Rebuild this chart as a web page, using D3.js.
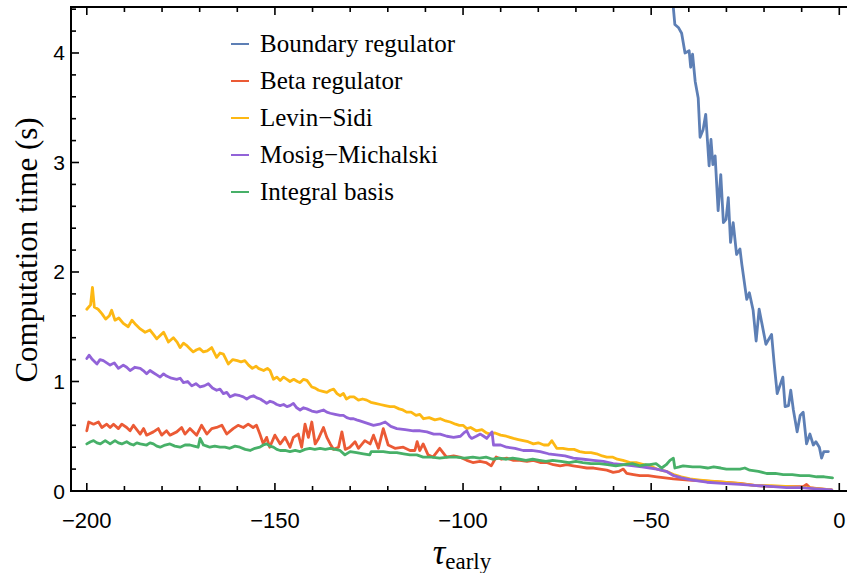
<!DOCTYPE html>
<html><head><meta charset="utf-8">
<script src="https://cdn.jsdelivr.net/npm/d3@7"></script>
<style>body{margin:0;background:#fff}svg{display:block}</style>
</head><body>
<svg id="c" width="847" height="573"></svg>
<script>
const seriesNames = ["Boundary regulator","Beta regulator","Levin\u2212Sidi","Mosig\u2212Michalski","Integral basis"];
const seriesColors = ["#5d7fb5","#eb5a35","#fdb813","#9263d8","#47b068"];
const xMajorTicks = [-200,-150,-100,-50,0];
const yMajorTicks = [0,1,2,3,4];

const boundaryRegulator = [[-48,5.0],[-45,4.6],[-44.1,4.41],[-43.7,4.26],[-42.7,4.23],[-41.9,4.18],[-41.0,4.00],[-39.9,4.02],[-39.5,3.87],[-39.0,3.99],[-38.3,3.74],[-37.5,3.59],[-37.0,3.23],[-36.2,3.30],[-35.5,3.44],[-34.6,2.97],[-34.1,3.21],[-33.6,2.98],[-33.0,3.06],[-32.2,2.56],[-31.5,2.89],[-30.8,2.45],[-30.1,2.48],[-29.5,2.68],[-28.9,2.27],[-28.2,2.45],[-27.3,2.16],[-26.4,2.21],[-25.9,2.07],[-24.6,1.75],[-23.9,1.81],[-22.9,1.65],[-22.1,1.37],[-21.3,1.66],[-19.5,1.34],[-18.0,1.43],[-17.3,1.16],[-16.5,0.89],[-15.0,1.04],[-14.4,0.77],[-13.5,0.78],[-12.9,0.92],[-12.2,0.74],[-11.2,0.54],[-10.4,0.69],[-9.6,0.72],[-8.7,0.43],[-7.8,0.52],[-6.9,0.42],[-6.2,0.45],[-5.3,0.40],[-4.7,0.30],[-4.1,0.36],[-2.9,0.36]];

const betaRegulator = [[-200,0.55],[-199.5,0.63],[-198.2,0.61],[-196.9,0.63],[-196,0.58],[-194.7,0.61],[-193.8,0.58],[-192.9,0.61],[-191.6,0.57],[-190.7,0.61],[-189.4,0.58],[-188.5,0.55],[-187.6,0.60],[-185.8,0.52],[-184.9,0.57],[-184.1,0.51],[-182.3,0.54],[-181,0.57],[-180.1,0.51],[-178.8,0.55],[-177.9,0.51],[-176.1,0.54],[-174.8,0.58],[-173.9,0.52],[-172.6,0.57],[-170.8,0.51],[-169.5,0.60],[-168.1,0.52],[-166.8,0.57],[-165.5,0.58],[-164.1,0.60],[-162.8,0.52],[-161.1,0.57],[-159.8,0.60],[-158.4,0.58],[-157.1,0.61],[-155.8,0.58],[-154.9,0.60],[-154,0.52],[-153.1,0.43],[-152.2,0.49],[-151.4,0.40],[-150,0.51],[-148.6,0.43],[-147.3,0.49],[-146,0.40],[-145.1,0.49],[-143.8,0.52],[-142.9,0.40],[-142,0.61],[-141.1,0.49],[-140.2,0.63],[-139.3,0.43],[-138.4,0.48],[-137.1,0.58],[-136.2,0.49],[-135.3,0.43],[-134.4,0.38],[-133.1,0.40],[-132.2,0.54],[-131.3,0.38],[-130.1,0.40],[-128.7,0.45],[-127.8,0.39],[-126.1,0.46],[-124.7,0.43],[-123.8,0.51],[-122.5,0.39],[-121.2,0.57],[-119.9,0.42],[-118.1,0.39],[-115.9,0.40],[-114.1,0.37],[-112.8,0.37],[-112.2,0.45],[-111.5,0.37],[-110.6,0.43],[-109.3,0.33],[-108,0.31],[-106.2,0.39],[-104.4,0.31],[-102.5,0.32],[-100.9,0.31],[-99,0.28],[-97.4,0.26],[-95.5,0.27],[-93.9,0.26],[-92.5,0.23],[-91.2,0.31],[-89.8,0.29],[-88.4,0.30],[-86.6,0.28],[-84.9,0.28],[-83,0.27],[-81.3,0.28],[-79.5,0.26],[-77.8,0.26],[-76,0.24],[-74.2,0.23],[-72.4,0.24],[-70.7,0.23],[-68.9,0.22],[-67.1,0.21],[-65.3,0.21],[-63.6,0.20],[-61.8,0.19],[-60.1,0.17],[-58.5,0.18],[-57.4,0.20],[-56.5,0.16],[-54.7,0.15],[-53,0.14],[-50.8,0.14],[-48.5,0.13],[-46.3,0.12],[-44.1,0.11],[-40,0.10],[-35.2,0.09],[-31,0.08],[-26.4,0.07],[-22,0.05],[-17.5,0.04],[-13,0.04],[-9.6,0.04],[-8.7,0.06],[-7.8,0.03],[-5,0.02],[-2,0.01]];

const levinSidi = [[-200,1.66],[-199,1.70],[-198.5,1.86],[-198,1.68],[-197,1.66],[-196,1.62],[-195,1.57],[-194,1.60],[-193.4,1.65],[-192.5,1.56],[-191.5,1.58],[-190.3,1.53],[-189,1.50],[-188,1.56],[-187,1.52],[-185.8,1.48],[-184.5,1.45],[-183.2,1.47],[-182.3,1.43],[-181.4,1.39],[-180.5,1.42],[-179.6,1.45],[-178.3,1.36],[-177,1.40],[-176,1.36],[-175.2,1.31],[-174.3,1.35],[-173.5,1.33],[-172.6,1.30],[-171.7,1.27],[-170.8,1.29],[-170,1.30],[-169,1.27],[-168,1.28],[-166.8,1.31],[-165.5,1.22],[-164.6,1.26],[-163.7,1.25],[-162.4,1.16],[-161.2,1.20],[-160,1.19],[-159,1.18],[-158,1.19],[-157,1.15],[-156,1.12],[-155,1.14],[-154.4,1.12],[-153,1.10],[-152,1.12],[-151.3,1.10],[-150.4,1.02],[-149.5,1.04],[-148.6,1.01],[-147.7,1.04],[-146.8,1.02],[-146,1.00],[-145,1.02],[-144,1.00],[-143.3,0.99],[-142.4,1.02],[-141.5,1.01],[-140.2,0.95],[-139.3,0.94],[-138.4,0.92],[-137.3,0.91],[-136.2,0.90],[-135.3,0.92],[-134.4,0.93],[-133.5,0.89],[-132.7,0.87],[-131.8,0.89],[-131,0.84],[-130,0.86],[-129,0.86],[-127.8,0.83],[-126.7,0.84],[-125.6,0.83],[-124.5,0.81],[-123.3,0.80],[-122,0.79],[-120.7,0.78],[-119.4,0.77],[-118.2,0.77],[-117,0.75],[-116,0.74],[-115,0.72],[-113.8,0.72],[-112.5,0.69],[-111.5,0.70],[-110.5,0.66],[-109,0.67],[-107.5,0.65],[-106,0.66],[-104.6,0.64],[-103.4,0.63],[-102,0.61],[-101,0.60],[-100,0.60],[-99,0.57],[-98,0.58],[-96.5,0.55],[-95,0.56],[-93.8,0.53],[-92.8,0.52],[-91.5,0.53],[-90,0.51],[-88.5,0.50],[-87.5,0.49],[-86.6,0.48],[-85.3,0.47],[-84,0.46],[-82.7,0.45],[-81.3,0.43],[-80,0.44],[-78.5,0.42],[-77.3,0.42],[-76.4,0.46],[-75.1,0.39],[-73.5,0.39],[-72,0.38],[-70.5,0.38],[-69,0.36],[-67.5,0.35],[-66,0.35],[-64.5,0.34],[-63,0.32],[-61.8,0.31],[-60.3,0.31],[-59,0.29],[-57.5,0.28],[-55.6,0.26],[-54,0.26],[-52,0.24],[-50.3,0.23],[-48.5,0.20],[-46,0.18],[-44,0.15],[-42,0.13],[-39.7,0.11],[-37,0.10],[-34,0.09],[-30.8,0.08],[-27,0.07],[-22,0.05],[-18,0.05],[-13.1,0.04],[-9,0.03],[-5,0.02],[-2,0.01]];

const mosigMichalski = [[-200,1.21],[-199.4,1.24],[-198.5,1.20],[-197.3,1.16],[-196.5,1.20],[-195.6,1.19],[-194.7,1.17],[-193.8,1.15],[-192.7,1.17],[-191.6,1.12],[-190.3,1.15],[-189.4,1.13],[-188.5,1.10],[-187.2,1.13],[-185.8,1.12],[-185,1.10],[-184.1,1.07],[-183.2,1.10],[-182.3,1.08],[-181.4,1.06],[-180.5,1.04],[-179.6,1.07],[-178.8,1.05],[-177.5,1.03],[-176.1,1.02],[-175.2,1.03],[-174.3,0.99],[-173.2,1.00],[-172.1,0.96],[-171,0.98],[-169.9,0.95],[-168.8,0.96],[-167.7,0.98],[-166.6,0.94],[-165.5,0.92],[-164.6,0.93],[-163.7,0.89],[-162.8,0.90],[-161.9,0.86],[-160.6,0.88],[-159.3,0.87],[-158.4,0.86],[-157.5,0.84],[-156.6,0.86],[-155.7,0.87],[-154.8,0.85],[-153.9,0.84],[-153,0.82],[-152.2,0.80],[-151.3,0.82],[-150.4,0.81],[-149.5,0.79],[-148.6,0.78],[-147.7,0.79],[-146.8,0.77],[-146,0.78],[-145.1,0.80],[-144.2,0.76],[-143.3,0.74],[-142.4,0.76],[-141.5,0.75],[-140.2,0.73],[-138.9,0.72],[-138,0.73],[-137.1,0.74],[-136.2,0.72],[-135.3,0.71],[-134,0.70],[-132.7,0.69],[-131.8,0.69],[-130.9,0.67],[-130,0.66],[-129.1,0.66],[-128.3,0.65],[-127.4,0.64],[-125.6,0.62],[-123.8,0.60],[-122.2,0.61],[-120.7,0.63],[-119.2,0.59],[-117.6,0.57],[-115.4,0.56],[-113.2,0.55],[-111.4,0.55],[-109.6,0.54],[-107.8,0.52],[-106.1,0.52],[-104.3,0.50],[-102.5,0.49],[-100.7,0.50],[-99.8,0.53],[-99,0.55],[-98.3,0.50],[-97.7,0.48],[-96.5,0.50],[-95.4,0.52],[-94.5,0.50],[-93.7,0.48],[-93,0.51],[-92.3,0.54],[-91.9,0.42],[-90,0.42],[-88.4,0.40],[-86.2,0.39],[-84,0.37],[-81.8,0.37],[-79.5,0.36],[-77.3,0.34],[-75.1,0.33],[-72.9,0.32],[-70.7,0.30],[-68,0.29],[-65.4,0.28],[-62.7,0.27],[-60.1,0.25],[-57.4,0.24],[-54.7,0.23],[-52.5,0.22],[-50.3,0.21],[-48.5,0.20],[-46,0.18],[-44,0.14],[-42,0.12],[-39,0.10],[-35.2,0.08],[-31,0.07],[-26.4,0.06],[-22,0.05],[-17.5,0.04],[-14,0.03],[-10.4,0.03],[-6,0.02],[-2,0.01]];

const integralBasis = [[-200,0.43],[-199,0.45],[-198.2,0.46],[-197.3,0.44],[-196.4,0.43],[-195.1,0.46],[-193.8,0.43],[-192.5,0.46],[-191.6,0.44],[-190.7,0.43],[-189.4,0.45],[-188.5,0.43],[-187.6,0.42],[-186.7,0.44],[-185.8,0.43],[-184.1,0.42],[-183.2,0.44],[-182.3,0.43],[-181.4,0.41],[-180.5,0.40],[-179.2,0.42],[-177.9,0.43],[-176.6,0.41],[-175.2,0.40],[-173.9,0.42],[-172.6,0.42],[-171.5,0.41],[-170.4,0.40],[-169.9,0.48],[-169,0.42],[-168.1,0.41],[-167.3,0.40],[-166,0.41],[-164.6,0.40],[-163.3,0.40],[-162,0.39],[-160.6,0.41],[-159.3,0.40],[-157.9,0.38],[-156.6,0.37],[-155.3,0.39],[-154,0.40],[-153.1,0.42],[-152.2,0.43],[-151.3,0.41],[-150.4,0.40],[-149.5,0.38],[-148.6,0.37],[-147.3,0.37],[-146,0.36],[-144.6,0.37],[-143.3,0.36],[-142,0.38],[-140.7,0.39],[-139.4,0.38],[-138,0.39],[-136.6,0.38],[-135.3,0.39],[-134,0.38],[-132.7,0.37],[-131.4,0.33],[-130,0.36],[-128.3,0.35],[-126.5,0.34],[-124.8,0.33],[-124.4,0.36],[-122.8,0.36],[-121.2,0.36],[-119.4,0.35],[-117.6,0.35],[-115.8,0.34],[-114.1,0.33],[-112.3,0.33],[-110.6,0.31],[-108.4,0.31],[-106.2,0.30],[-104,0.31],[-101.8,0.31],[-99.6,0.30],[-97.4,0.31],[-95.6,0.30],[-93.9,0.31],[-92.1,0.29],[-90.3,0.30],[-88.5,0.29],[-86.8,0.30],[-85,0.29],[-83.3,0.28],[-81.5,0.29],[-79.7,0.28],[-78,0.27],[-76.2,0.28],[-74,0.27],[-71.8,0.26],[-70,0.27],[-68.2,0.26],[-66,0.25],[-63.8,0.25],[-61.6,0.24],[-59.4,0.23],[-57.2,0.24],[-55,0.25],[-53,0.23],[-51.5,0.24],[-50.4,0.24],[-48.7,0.25],[-47.2,0.21],[-46,0.24],[-45,0.28],[-44.1,0.30],[-43.7,0.21],[-42.5,0.22],[-41.5,0.23],[-39,0.22],[-37,0.22],[-35,0.21],[-33.4,0.22],[-31.5,0.21],[-30,0.20],[-28,0.20],[-26.4,0.20],[-25.1,0.21],[-23.8,0.19],[-21.5,0.18],[-19.3,0.16],[-17,0.16],[-14.9,0.15],[-12.5,0.15],[-10.4,0.14],[-8,0.14],[-6,0.13],[-4,0.13],[-1.8,0.12]];

const allSeries = [boundaryRegulator, betaRegulator, levinSidi, mosigMichalski, integralBasis];

const svg = d3.select("#c");
const L = 71, R = 847, T = 7, B = 491;
const x = d3.scaleLinear().domain([-204.2, 2.05]).range([L, R]);
const y = d3.scaleLinear().domain([0, 4.42]).range([B, T]);

svg.append("defs").append("clipPath").attr("id","clip")
  .append("rect").attr("x",L).attr("y",T).attr("width",R-L).attr("height",B-T);

const line = d3.line().x(d=>x(d[0])).y(d=>y(d[1]));
const g = svg.append("g").attr("clip-path","url(#clip)");
allSeries.forEach((s,i)=>{
  g.append("path").datum(s).attr("d",line).attr("fill","none")
   .attr("stroke",seriesColors[i]).attr("stroke-width",2.8)
   .attr("stroke-linejoin","round").attr("stroke-linecap","round");
});

// frame
const frame = svg.append("g").attr("stroke","#000").attr("stroke-width",2).attr("fill","none");
frame.append("line").attr("x1",L).attr("x2",R+5).attr("y1",B).attr("y2",B);
frame.append("line").attr("x1",L).attr("x2",R+5).attr("y1",T).attr("y2",T);
frame.append("line").attr("x1",L).attr("x2",L).attr("y1",T-1).attr("y2",B+1);

const tickSize = (major)=> major ? 8 : 5;
const xMinor = d3.range(-200, 1, 10);
xMinor.forEach(v=>{
  const major = xMajorTicks.includes(v);
  const px = x(v);
  frame.append("line").attr("x1",px).attr("x2",px).attr("y1",B).attr("y2",B-tickSize(major)).attr("stroke-width",1.6);
  frame.append("line").attr("x1",px).attr("x2",px).attr("y1",T).attr("y2",T+tickSize(major)).attr("stroke-width",1.6);
});
const yMinor = d3.range(0, 4.41, 0.2).map(v=>+v.toFixed(1));
yMinor.forEach(v=>{
  const major = yMajorTicks.includes(v);
  const py = y(v);
  frame.append("line").attr("x1",L).attr("x2",L+tickSize(major)).attr("y1",py).attr("y2",py).attr("stroke-width",1.6);
});

const tickFont = "'Liberation Sans', Arial, sans-serif";
svg.append("g").selectAll("text").data(xMajorTicks).join("text")
  .attr("x",d=>x(d)).attr("y",528).attr("text-anchor","middle")
  .attr("font-family",tickFont).attr("font-size",22).attr("fill","#000")
  .text(d=> d<0 ? "\u2212" + Math.abs(d) : String(d));
svg.append("g").selectAll("text").data(yMajorTicks).join("text")
  .attr("x",L-6).attr("y",d=>y(d)+7.5).attr("text-anchor","end")
  .attr("font-family",tickFont).attr("font-size",21).attr("fill","#000")
  .text(d=>String(d));

const serif = "'Liberation Serif', 'Times New Roman', serif";
svg.append("text").attr("transform","translate(37,250) rotate(-90)")
  .attr("text-anchor","middle").attr("font-family",serif).attr("font-size",31).attr("fill","#000")
  .text("Computation time (s)");

const xt = svg.append("text").attr("x",462).attr("y",564).attr("text-anchor","middle")
  .attr("font-family",serif).attr("fill","#000");
xt.append("tspan").attr("font-style","italic").attr("font-size",35).text("\u03C4");
xt.append("tspan").attr("font-size",23).attr("dy",5).text("early");

// legend
const lg = svg.append("g");
seriesNames.forEach((n,i)=>{
  const ly = 44 + i*37;
  lg.append("line").attr("x1",231).attr("x2",249).attr("y1",ly).attr("y2",ly)
    .attr("stroke",seriesColors[i]).attr("stroke-width",2);
  lg.append("text").attr("x",260).attr("y",ly+8.3).attr("font-family",serif)
    .attr("font-size",25).attr("fill","#000").text(n);
});
</script>
</body></html>
